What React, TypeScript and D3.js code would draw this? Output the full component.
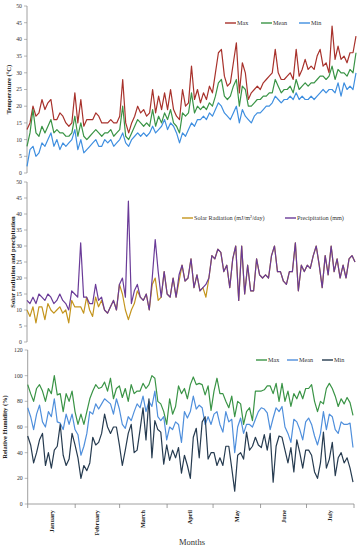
import React from "react";
import * as d3 from "d3";

// ---- temperature (°C), roughly every 2nd day Jan -> Jul
const tempMax = [13, 15, 20, 17, 18, 22, 19, 21, 22, 16, 16, 18, 17, 15, 14, 15, 24, 15, 22, 14, 16, 16, 16, 18, 17, 15, 15, 15, 16, 15, 15, 17, 28, 15, 12, 15, 17, 20, 18, 19, 17, 18, 25, 18, 23, 19, 24, 19, 25, 19, 17, 16, 25, 20, 21, 32, 22, 25, 21, 24, 22, 26, 24, 30, 36, 37, 29, 26, 27, 33, 39, 24, 33, 30, 22, 24, 25, 26, 25, 27, 28, 29, 30, 37, 30, 28, 28, 29, 30, 28, 37, 29, 31, 34, 31, 32, 31, 35, 37, 32, 33, 30, 44, 34, 38, 34, 35, 33, 36, 36, 41];
const tempMean = [8, 12, 19, 12, 11, 14, 12, 14, 16, 12, 13, 12, 12, 11, 11, 12, 17, 11, 15, 11, 10, 11, 12, 13, 12, 11, 12, 12, 13, 11, 12, 13, 20, 11, 10, 12, 14, 16, 15, 14, 15, 14, 19, 14, 17, 15, 18, 16, 19, 15, 14, 12, 18, 17, 18, 24, 18, 20, 19, 20, 19, 21, 20, 23, 27, 28, 23, 22, 23, 26, 28, 20, 26, 25, 20, 20, 21, 22, 22, 23, 23, 24, 24, 28, 26, 24, 25, 25, 26, 24, 28, 25, 26, 27, 26, 27, 27, 28, 29, 29, 28, 29, 32, 28, 31, 30, 30, 29, 31, 30, 36];
const tempMin = [2, 7, 8, 5, 6, 9, 8, 10, 12, 8, 10, 7, 9, 8, 9, 10, 13, 7, 10, 6, 7, 8, 9, 10, 8, 8, 10, 9, 10, 8, 9, 10, 12, 9, 8, 10, 11, 12, 11, 12, 11, 12, 14, 12, 13, 14, 16, 13, 15, 14, 12, 9, 12, 11, 13, 15, 14, 16, 16, 17, 16, 18, 17, 19, 21, 20, 18, 17, 16, 18, 20, 15, 19, 17, 16, 15, 17, 18, 18, 19, 20, 20, 21, 23, 22, 21, 22, 22, 23, 22, 24, 22, 23, 22, 22, 23, 22, 23, 24, 25, 24, 25, 25, 24, 27, 23, 27, 25, 26, 25, 30];

// ---- solar radiation and precipitation
const solar = [10, 8, 11, 6, 11, 11, 7, 12, 10, 9, 10, 11, 9, 10, 6, 13, 11, 11, 11, 9, 14, 10, 8, 14, 11, 13, 10, 9, 11, 13, 10, 18, 15, 10, 7, 10, 12, 16, 14, 13, 15, 10, 18, 20, 13, 14, 22, 15, 14, 20, 14, 19, 24, 19, 20, 26, 17, 21, 16, 17, 14, 20, 27, 26, 29, 28, 22, 24, 17, 26, 30, 13, 30, 15, 24, 16, 16, 26, 21, 20, 21, 20, 27, 30, 22, 22, 19, 18, 22, 22, 31, 16, 24, 22, 24, 23, 27, 30, 24, 17, 27, 21, 30, 22, 26, 20, 24, 20, 26, 27, 25];
const precip = [13, 12, 14, 12, 15, 14, 13, 15, 14, 12, 13, 15, 13, 12, 10, 16, 15, 14, 31, 14, 14, 12, 12, 18, 13, 14, 10, 9, 11, 13, 10, 18, 20, 14, 44, 12, 16, 18, 14, 13, 15, 10, 20, 32, 22, 14, 22, 15, 14, 20, 14, 21, 24, 19, 20, 26, 17, 21, 16, 17, 18, 20, 27, 26, 29, 28, 22, 24, 17, 26, 30, 13, 30, 15, 24, 16, 16, 26, 21, 20, 21, 20, 27, 30, 22, 22, 19, 18, 22, 22, 31, 16, 24, 22, 24, 23, 27, 30, 24, 17, 27, 21, 30, 22, 26, 20, 24, 20, 26, 27, 25];

// ---- relative humidity (%)
const rhMax = [93, 86, 80, 90, 93, 88, 80, 90, 86, 100, 85, 86, 72, 86, 80, 88, 72, 62, 70, 62, 72, 82, 88, 93, 90, 91, 95, 88, 98, 82, 90, 92, 83, 90, 80, 93, 86, 88, 88, 94, 90, 93, 100, 98, 80, 78, 72, 62, 82, 70, 76, 92, 86, 90, 82, 93, 99, 93, 94, 93, 85, 92, 73, 88, 98, 86, 86, 80, 75, 84, 68, 80, 78, 62, 72, 75, 65, 88, 88, 88, 89, 92, 92, 86, 94, 80, 94, 80, 88, 76, 86, 82, 88, 82, 90, 90, 93, 80, 72, 80, 78, 90, 94, 90, 84, 76, 82, 78, 83, 79, 69];
const rhMean = [75, 68, 58, 70, 77, 64, 60, 72, 68, 82, 64, 63, 58, 70, 62, 70, 58, 54, 38, 45, 55, 72, 70, 78, 74, 78, 82, 80, 78, 70, 82, 74, 62, 59, 68, 65, 72, 78, 75, 84, 72, 80, 76, 88, 68, 65, 68, 50, 60, 58, 64, 62, 48, 72, 67, 72, 84, 74, 77, 75, 62, 68, 62, 70, 72, 62, 56, 72, 64, 66, 40, 60, 67, 55, 62, 62, 60, 66, 72, 75, 74, 71, 58, 67, 75, 72, 76, 60, 55, 48, 66, 64, 58, 50, 64, 67, 62, 53, 46, 55, 72, 58, 70, 68, 58, 55, 64, 62, 62, 63, 44];
const rhMin = [53, 46, 32, 40, 50, 55, 30, 40, 28, 42, 45, 62, 38, 30, 35, 55, 46, 36, 20, 30, 26, 32, 52, 46, 48, 55, 70, 60, 55, 60, 60, 46, 30, 42, 55, 62, 40, 42, 58, 75, 50, 82, 36, 65, 58, 56, 31, 46, 34, 42, 36, 44, 24, 38, 30, 20, 52, 59, 36, 64, 68, 35, 40, 40, 30, 36, 30, 45, 45, 28, 10, 38, 40, 35, 56, 42, 45, 52, 46, 44, 54, 42, 55, 17, 45, 53, 52, 42, 32, 44, 25, 50, 40, 28, 42, 42, 38, 25, 20, 32, 56, 28, 35, 48, 22, 36, 40, 32, 36, 28, 17];

const months = ["January", "February", "March", "April", "May", "June", "July"];
const monthDays = [31, 29, 31, 30, 31, 30, 31];
const tempTicks = [0, 5, 10, 15, 20, 25, 30, 35, 40, 45, 50];
const rhTicks = [0, 20, 40, 60, 80, 100, 120];

const serif = "'Liberation Serif', 'Times New Roman', serif";

type Series = { name: string; values: number[]; color: string };

function Panel({
  series,
  yDomain,
  yRange,
  xRange,
  ticks,
  title,
  titleX,
  legendY,
  legendX,
}: {
  series: Series[];
  yDomain: [number, number];
  yRange: [number, number];
  xRange: [number, number];
  ticks: number[];
  title: string;
  titleX: number;
  legendY: number;
  legendX: number[];
}) {
  const n = series[0].values.length;
  const x = d3.scaleLinear().domain([0, n - 1]).range(xRange);
  const y = d3.scaleLinear().domain(yDomain).range(yRange);
  const line = d3
    .line<number>()
    .x((d, i) => x(i))
    .y((d) => y(d));
  const ax = xRange[0];
  return (
    <g>
      <line x1={ax} x2={ax} y1={y(yDomain[1])} y2={y(yDomain[0])} stroke="#888" strokeWidth={0.8} />
      {ticks.map((t) => (
        <g key={t}>
          <line x1={ax - 3} x2={ax} y1={y(t)} y2={y(t)} stroke="#888" strokeWidth={0.6} />
          <text x={ax - 5} y={y(t)} dy="0.33em" textAnchor="end" fontSize={5.8} fill="#333">
            {t}
          </text>
        </g>
      ))}
      <text
        transform={`translate(${titleX},${(y(yDomain[0]) + y(yDomain[1])) / 2}) rotate(-90)`}
        textAnchor="middle"
        fontSize={6.5}
        fontWeight="bold"
        fill="#222"
      >
        {title}
      </text>
      {series.map((s) => (
        <path key={s.name} d={line(s.values) || ""} fill="none" stroke={s.color} strokeWidth={1.2} strokeLinejoin="round" />
      ))}
      {series.map((s, i) => (
        <g key={"lg" + s.name} transform={`translate(${legendX[i]},${legendY})`}>
          <line x1={0} x2={11} y1={0} y2={0} stroke={s.color} strokeWidth={1.4} />
          <text x={12} y={0} dy="0.33em" fontSize={6.2} fill="#333">
            {s.name}
          </text>
        </g>
      ))}
    </g>
  );
}

export default function App() {
  const totalDays = d3.sum(monthDays);
  const dayX = d3.scaleLinear().domain([0, totalDays]).range([27.7, 354]);
  const edges = [0, ...d3.cumsum(monthDays)];
  const axisY = 504;

  return (
    <svg
      width={361}
      height={550}
      style={{ position: "absolute", left: 0, top: 0, background: "#fff", fontFamily: serif }}
    >
      {/* temperature */}
      <Panel
        series={[
          { name: "Min", values: tempMin, color: "#3f8fe0" },
          { name: "Mean", values: tempMean, color: "#3a9446" },
          { name: "Max", values: tempMax, color: "#a8322c" },
        ].reverse()}
        yDomain={[0, 50]}
        yRange={[173, 6]}
        xRange={[27, 356]}
        ticks={tempTicks}
        title="Temperature (°C)"
        titleX={11}
        legendY={23}
        legendX={[225, 261, 299]}
      />
      {/* solar & precipitation */}
      <Panel
        series={[
          { name: "Solar Radiation (mJ/m²/day)", values: solar, color: "#c4951e" },
          { name: "Precipitation (mm)", values: precip, color: "#6a3b98" },
        ]}
        yDomain={[0, 50]}
        yRange={[342, 182]}
        xRange={[27, 355]}
        ticks={tempTicks}
        title="Solar radiation and precipitation"
        titleX={15}
        legendY={218}
        legendX={[182, 285]}
      />
      {/* relative humidity */}
      <Panel
        series={[
          { name: "Max", values: rhMax, color: "#3a9446" },
          { name: "Mean", values: rhMean, color: "#4f8fdc" },
          { name: "Min", values: rhMin, color: "#263b50" },
        ]}
        yDomain={[0, 120]}
        yRange={[504, 350]}
        xRange={[27.7, 353]}
        ticks={rhTicks}
        title="Relative Humidity (%)"
        titleX={7}
        legendY={360}
        legendX={[256, 287, 322]}
      />
      {/* month axis */}
      <line x1={27.7} x2={354} y1={axisY} y2={axisY} stroke="#888" strokeWidth={0.8} />
      {edges.map((d) => (
        <line key={d} x1={dayX(d)} x2={dayX(d)} y1={axisY} y2={axisY + 4} stroke="#888" strokeWidth={0.8} />
      ))}
      {months.map((m, i) => {
        const cx = dayX((edges[i] + edges[i + 1]) / 2);
        return (
          <text
            key={m}
            transform={`translate(${cx},${axisY + 6}) rotate(-90)`}
            textAnchor="end"
            dy="0.33em"
            fontSize={6.3}
            fontWeight="bold"
            fill="#222"
          >
            {m}
          </text>
        );
      })}
      <text x={192} y={545} textAnchor="middle" fontSize={8.5} fill="#333">
        Months
      </text>
    </svg>
  );
}
